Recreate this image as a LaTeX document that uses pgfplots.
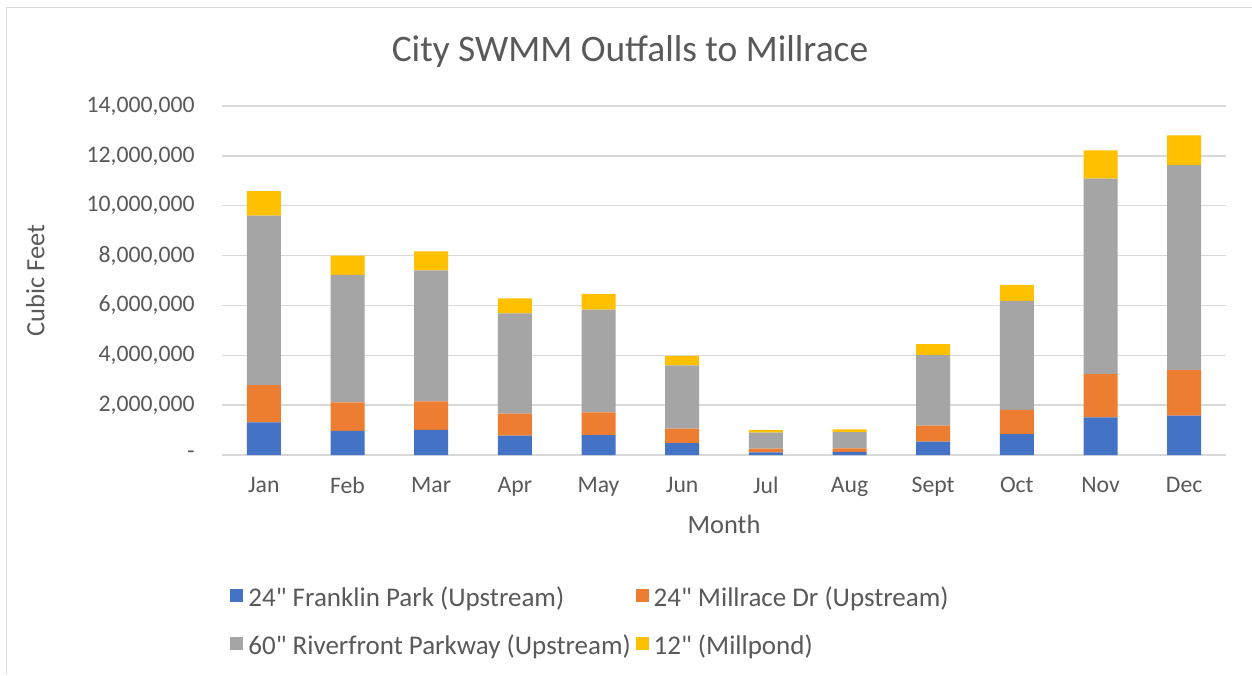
\documentclass[border=0pt]{standalone}
\usepackage{pgfplots}
\pgfplotsset{compat=1.18}
\usepackage{pgfplotstable}
\usepackage{fontspec}
\setmainfont{Carlito}
\definecolor{cblue}{HTML}{4472C4}
\definecolor{corange}{HTML}{ED7D31}
\definecolor{cgray}{HTML}{A5A5A5}
\definecolor{cyellow}{HTML}{FFC000}
\definecolor{gridc}{HTML}{D9D9D9}
\definecolor{txt}{HTML}{595959}
\pgfplotstableread{
x blue orange gray yellow
0 1310000 1490000 6800000 990000
1 970000 1140000 5120000 770000
2 1010000 1140000 5260000 760000
3 780000 880000 4020000 600000
4 800000 910000 4120000 630000
5 480000 580000 2540000 380000
6 110000 150000 640000 100000
7 130000 140000 650000 110000
8 540000 640000 2830000 440000
9 840000 970000 4370000 640000
10 1510000 1730000 7850000 1130000
11 1580000 1820000 8230000 1190000
}\data
\begin{document}
\begin{tikzpicture}
\useasboundingbox (0,0) rectangle (626pt,337.5pt);
\fill[white] (0,0) rectangle (626pt,337.5pt);
\draw[gridc, line width=0.75pt] (3.25pt,0) -- (3.25pt,333.75pt) -- (626pt,333.75pt);
\begin{axis}[
  at={(111pt,110pt)}, anchor=south west,
  width=502pt, height=174.5pt, scale only axis,
  ybar stacked, bar width=17pt,
  xmin=-0.5, xmax=11.5, ymin=0, ymax=14000000,
  xtick={0,...,11},
  xticklabels={Jan,Feb,Mar,Apr,May,Jun,Jul,Aug,Sept,Oct,Nov,Dec},
  ytick={0,2000000,4000000,6000000,8000000,10000000,12000000,14000000},
  yticklabels={{-},{2,000,000},{4,000,000},{6,000,000},{8,000,000},{10,000,000},{12,000,000},{14,000,000}},
  scaled y ticks=false,
  ymajorgrids, grid style={gridc, line width=0.75pt},
  axis line style={draw=none},
  major tick length=0pt,
  tick label style={font=\fontsize{11.85}{14}\selectfont, text=txt},
  yticklabel style={inner sep=0pt, anchor=east, xshift=-13.5pt},
  xticklabel style={inner sep=0pt, anchor=north, yshift=-11pt},
  title={City SWMM Outfalls to Millrace},
  title style={font=\fontsize{18.7}{22}\selectfont, text=txt, at={(axis description cs:0.4064,1.122)}, anchor=center},
  xlabel={Month},
  xlabel style={font=\fontsize{13.2}{16}\selectfont, text=txt, at={(axis description cs:0.5,-0.198)}, anchor=center},
  ylabel={Cubic Feet},
  ylabel style={font=\fontsize{13.2}{16}\selectfont, text=txt, at={(axis description cs:-0.186,0.5)}, anchor=center},
  legend columns=2,
  legend cell align=left,
  legend style={draw=none, fill=none, at={(axis description cs:0.008,-0.37)}, anchor=north west,
    font=\fontsize{13.5}{16}\selectfont, text=txt, inner sep=0pt, row sep=8pt,
    nodes={inner sep=1.5pt, text height=9.7pt, text depth=3.1pt},
    /tikz/every even column/.append style={column sep=1pt},
    /tikz/every odd column/.append style={column sep=1pt}},
  legend image code/.code={\fill[#1] (0pt,-0.8pt) rectangle (6.5pt,5.7pt);},
]
\addplot[fill=cblue, draw=none] table[x=x, y=blue] {\data};
\addplot[fill=corange, draw=none] table[x=x, y=orange] {\data};
\addplot[fill=cgray, draw=none] table[x=x, y=gray] {\data};
\addplot[fill=cyellow, draw=none] table[x=x, y=yellow] {\data};
\legend{{24\textquotedbl{} Franklin Park (Upstream)},{24\textquotedbl{} Millrace Dr (Upstream)},{60\textquotedbl{} Riverfront Parkway (Upstream)},{12\textquotedbl{} (Millpond)}}
\end{axis}
\end{tikzpicture}
\end{document}
